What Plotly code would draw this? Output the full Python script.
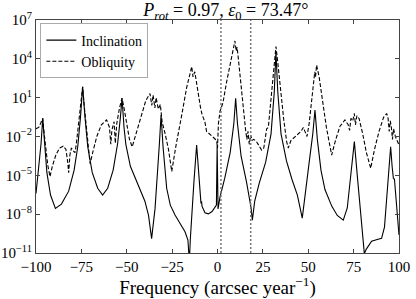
import plotly.graph_objects as go

# ---- data ----
inc_freq = [-100, -98.5, -97.2, -96.3, -95.3, -94, -92, -89.3, -86, -82, -79, -77, -75.5, -74.3,
            -73, -71.5, -69, -66, -63.3, -60.5, -57.5, -55, -53.5, -52.6, -51.5, -50.5, -48,
            -43.6, -40, -38, -36.3, -34.4, -33, -32, -31.1, -30, -28, -26, -23.4, -20, -17.9,
            -16.3, -15.5, -15, -14.2, -13, -11.5, -10.5, -9.1, -8.8, -8.5, -6.9, -5.05, -3,
            -0.6, -0.2, 0.3, 1.4, 4, 7, 9, 10, 11, 13, 16, 18.5, 19.2, 20.5, 23, 26.5, 29.5,
            31.3, 32.2, 33.2, 35, 38, 41, 44, 46.7, 48.2, 50.5, 52.5, 53.7, 55, 57, 59.2, 63,
            66, 69.3, 71.5, 73.5, 75.4, 77, 79, 80.9, 82, 84.9, 88, 90.4, 92, 93.2, 94.5, 95.4,
            96.2, 96.9, 97.5, 98.5, 100]
inc_power = [4e-7, 3e-5, 3e-3, 0.25, 2.5e-3, 1.6e-5, 3e-7, 2.8e-8, 6e-8, 6e-7, 2.5e-5, 1.6e-3,
             0.3, 70, 0.3, 1.6e-3, 1.6e-5, 1e-6, 3e-7, 1e-6, 2.5e-5, 3e-3, 0.3, 9, 0.05,
             2.5e-3, 5e-5, 1.8e-6, 1e-7, 8e-9, 1.3e-10, 2.8e-8, 1e-5, 3e-3, 0.45, 1.6e-3, 1e-6,
             5e-8, 8.5e-9, 1.3e-9, 4.4e-10, 1e-10, 2e-12, 1e-10, 8.5e-9, 3e-6, 2.2e-3, 3e-5,
             6.8e-8, 1e-7, 4e-8, 1.3e-8, 1.05e-8, 1.6e-8, 5e-8, 2e-3, 2.5e-8, 2.2e-7, 6e-6,
             6e-4, 0.1, 9, 0.1, 3e-4, 3e-6, 3e-8, 3.5e-9, 1e-7, 2.5e-6, 1e-4, 0.016, 30,
             3.5e4, 30, 0.016, 1.3e-4, 5e-6, 3e-7, 5e-9, 4e-7, 1e-4, 0.016, 1.1, 6e-3, 2.5e-5,
             8e-7, 4e-8, 8e-9, 3.5e-9, 3e-8, 1e-5, 4e-3, 1e-5, 1e-8, 9e-12, 2e-11, 8e-11,
             1.1e-10, 1.35e-10, 1e-9, 3e-7, 1e-4, 1.6e-3, 5e-5, 6e-6, 5e-6, 1e-7, 2.5e-10]

obl_freq = [-100, -98.5, -97.5, -96.3, -95.5, -94.5, -93.5, -92.3, -91, -89, -87, -85, -83.5,
            -82.5, -82, -81.3, -80.5, -79.5, -78.5, -77.8, -77, -76, -75, -74.3, -73.5, -72.5,
            -71.5, -70.2, -68.5, -66.5, -64, -61.1, -59.5, -58.8, -58.2, -57, -56.3, -55.5,
            -54, -52.6, -51.5, -50, -48.5, -47, -45, -42, -39.5, -37.2, -36.2, -35.5, -34.5,
            -33.8, -32.6, -31.5, -30.5, -29, -27, -25.2, -23, -19.7, -17, -14.2, -13.5, -12.5,
            -11.5, -10.5, -9.3, -8.5, -7, -6, -4, -2.3, -0.5, 0, 0.5, 1.4, 3, 5, 7, 8.5, 9.6,
            10.3, 10.8, 11.5, 12.5, 14, 15.5, 16.2, 16.8, 17.5, 18.3, 19, 20, 21.5, 23, 24.3,
            25.5, 27.1, 28, 29.5, 31, 32.2, 33, 34, 35.3, 36.5, 38.1, 39, 40.5, 43, 46, 47.3,
            48.5, 49.3, 50.5, 52, 53, 53.6, 54, 54.6, 56, 58, 60, 62.9, 65, 67.5, 70.2, 72,
            72.8, 73.5, 74.5, 75.4, 76, 76.8, 78, 80, 82, 84.4, 86.5, 89, 91.5, 93.2, 94, 94.6,
            95.2, 95.8, 96.4, 97, 98, 100]
obl_power = [0.04, 0.05, 0.1, 0.25, 0.016, 1e-3, 6e-5, 8e-6, 5e-5, 4e-4, 1.3e-3, 1.8e-3, 1e-3,
             1e-4, 1.6e-5, 4e-4, 1.3e-3, 8e-4, 5.6e-4, 2.5e-3, 0.025, 0.5, 10, 70, 3, 0.1,
             3e-3, 8e-5, 8e-4, 0.01, 0.08, 0.19, 0.05, 2.5e-3, 0.03, 0.14, 3e-3, 0.1, 1.6, 9,
             1.6, 0.1, 6e-3, 1.6e-3, 0.016, 0.5, 6, 21, 2.5, 16, 1.6, 10, 1.3, 3, 0.13, 0.02,
             1e-3, 2e-5, 1.6e-3, 0.45, 60, 2500, 400, 1000, 100, 12, 1.5, 0.5, 0.14, 0.025,
             0.013, 8e-3, 5e-3, 1.3e-3, 0.1, 0.9, 4, 160, 4000, 5e4, 2.4e5, 4e4, 8e4,
             1e4, 300, 3, 0.03, 6e-3, 0.025, 2.5e-3, 0.013, 5e-3, 6e-3, 4e-3, 2e-3, 9e-4,
             1.3e-3, 0.04, 0.05, 10, 1600, 8.7e4, 1e4, 400, 9, 0.2, 4e-3, 1.3e-3, 5e-3, 0.01,
             0.025, 0.05, 0.02, 0.01, 0.1, 10, 300, 1000, 400, 3300, 400, 3, 0.05, 3.7e-4,
             5e-3, 0.063, 0.19, 0.08, 0.03, 0.25, 0.16, 0.6, 0.08, 0.4, 0.25, 0.016, 6e-4,
             3.5e-5, 1e-3, 0.025, 0.3, 0.6, 0.25, 0.025, 0.16, 0.05, 6e-3, 0.04, 0.01, 2.2e-3]

resonance_freqs = [1.9, 18.3]
y_tick_vals = [1e-11, 1e-8, 1e-5, 1e-2, 1e1, 1e4, 1e7]
y_tick_text = ["10<sup>−11</sup>", "10<sup>−8</sup>", "10<sup>−5</sup>", "10<sup>−2</sup>",
               "10<sup>1</sup>", "10<sup>4</sup>", "10<sup>7</sup>"]
x_tick_vals = [-100, -75, -50, -25, 0, 25, 50, 75, 100]

FONT = "Liberation Serif"

fig = go.Figure()
fig.add_trace(go.Scatter(x=inc_freq, y=inc_power, mode="lines", name="Inclination",
                         line=dict(color="black", width=1.1)))
fig.add_trace(go.Scatter(x=obl_freq, y=obl_power, mode="lines", name="Obliquity",
                         line=dict(color="black", width=1.1, dash="4px,2px")))

for f in resonance_freqs:
    fig.add_shape(type="line", xref="x", yref="paper", x0=f, x1=f, y0=0, y1=1,
                  line=dict(color="#777777", width=1.5, dash="2px,2px"))

fig.update_layout(
    width=416, height=299,
    margin=dict(l=36, r=17, t=20, b=46, autoexpand=False),
    paper_bgcolor="white", plot_bgcolor="white",
    font=dict(family=FONT, color="black", size=14),
    title=dict(text="<i>P</i><sub><i>rot</i></sub> = 0.97, <i>ε</i><sub>0</sub> = 73.47°",
               x=0.543, xanchor="center", y=0.988, yanchor="top",
               font=dict(family=FONT, size=18)),
    showlegend=True,
    legend=dict(x=0.012, y=0.985, xanchor="left", yanchor="top",
                bgcolor="white", bordercolor="#aaaaaa", borderwidth=1,
                font=dict(family=FONT, size=14), tracegroupgap=0, itemwidth=30),
)
fig.update_xaxes(range=[-100, 100], tickvals=x_tick_vals, showgrid=False, zeroline=False,
                 showline=True, linecolor="#444444", linewidth=1, mirror="ticks",
                 ticks="inside", ticklen=4, tickcolor="#444444", automargin=False,
                 tickfont=dict(family=FONT, size=15),
                 title=dict(text="Frequency (arcsec year<sup>−1</sup>)",
                            font=dict(family=FONT, size=19), standoff=2))
fig.update_yaxes(type="log", range=[-11, 7], tickvals=y_tick_vals, ticktext=y_tick_text,
                 showgrid=False, zeroline=False, showline=True, linecolor="#444444",
                 linewidth=1, mirror="ticks", ticks="inside", ticklen=4, tickcolor="#444444",
                 automargin=False, tickfont=dict(family=FONT, size=15))

fig.write_html("out.html", config={"displayModeBar": False},
               post_script="document.body.style.margin='0';document.body.style.overflow='hidden';")
